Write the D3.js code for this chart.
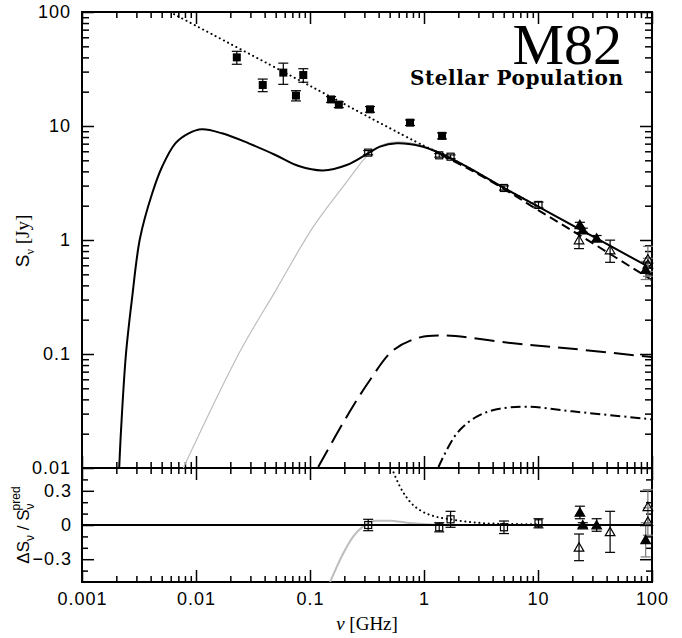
<!DOCTYPE html>
<html>
<head>
<meta charset="utf-8">
<script src="https://cdn.jsdelivr.net/npm/d3@7"></script>
<style>
  body { margin: 0; background: #fff; }
  svg { display: block; }
  .tick-label { font-family: "Liberation Sans", sans-serif; font-size: 18px; letter-spacing: 1px; }
  .axis-title { font-family: "Liberation Serif", serif; font-size: 19px; }
</style>
</head>
<body>
<div id="chart"></div>
<script>
// ---- tick labels ----
const xMajorTicks = [0.001, 0.01, 0.1, 1, 10, 100];
const yMajorTicks = [0.01, 0.1, 1, 10, 100];
const resMajorTicks = [-0.3, 0, 0.3];
const resMinorTicks = [-0.4, -0.2, -0.1, 0.1, 0.2, 0.4];

// ---- measured flux densities (GHz, Jy) ----
// filled squares
const sqFilledNu = [0.0228, 0.0385, 0.0583, 0.0753, 0.0873, 0.153, 0.179, 0.336, 0.754, 1.44];
const sqFilledS = [40.0, 22.9, 29.4, 18.5, 28.0, 17.1, 15.4, 14.0, 10.7, 8.2];
const sqFilledErr = [5.2, 2.9, 6.2, 1.9, 3.8, 1.0, 0.9, 0.8, 0.6, 0.5];

// open squares
const sqOpenNu = [0.324, 1.36, 1.71, 5.03, 10.1];
const sqOpenS = [5.84, 5.53, 5.38, 2.86, 2.03];
const sqOpenErr = [0.25, 0.2, 0.2, 0.12, 0.12];
const sqOpenRes = [0.0, -0.02, 0.05, -0.02, 0.015];
const sqOpenResErr = [0.05, 0.04, 0.07, 0.055, 0.04];

// filled triangles
const triFilledNu = [23.3, 24.7, 32.7, 88];
const triFilledS = [1.36, 1.22, 1.035, 0.55];
const triFilledErr = [0.07, 0.05, 0.06, 0.1];
const triFilledRes = [0.11, 0.0, 0.0, -0.13];
const triFilledResErr = [0.055, 0.02, 0.055, 0.15];

// open triangles
const triOpenNu = [22.9, 42.9, 92, 92];
const triOpenS = [1.0, 0.817, 0.68, 0.61];
const triOpenErr = [0.16, 0.18, 0.2, 0.08];
const triOpenRes = [-0.196, -0.06, 0.16, 0.03];
const triOpenResErr = [0.117, 0.18, 0.15, 0.12];

// ---- model curves: [nu, S] ----
const totalModel = [[0.00212, 0.01], [0.0022, 0.0215], [0.00243, 0.1], [0.00275, 0.31], [0.00323, 1.04],
  [0.00411, 2.53], [0.00503, 4.37], [0.00659, 7.05], [0.00863, 8.63], [0.0113, 9.36], [0.0169, 8.63],
  [0.029, 7.05], [0.0497, 5.57], [0.0797, 4.46], [0.13, 4.08], [0.21, 4.55], [0.324, 5.77],
  [0.411, 6.59], [0.577, 7.05], [0.923, 6.67], [1.38, 5.77], [2.37, 4.40], [5.03, 2.86],
  [10.1, 1.96], [23.3, 1.24], [100, 0.56]];
const noFreeFreeModel = [[0.00774, 0.01], [0.0243, 0.105], [0.05, 0.36], [0.107, 1.31],
  [0.21, 3.24], [0.293, 5.03], [0.35, 6.0], [0.45, 6.95], [0.6, 7.25], [0.923, 6.8], [1.38, 5.85],
  [2.37, 4.42], [5.03, 2.86], [10.1, 1.96], [23.3, 1.24], [100, 0.56]];
const nonThermal = [[1.4, 5.6], [2.37, 4.3], [5.03, 2.8], [10.1, 1.82], [23.3, 1.1], [100, 0.445]];
const thermalA = [[0.118, 0.0102], [0.21, 0.0282], [0.336, 0.0592], [0.538, 0.108], [0.923, 0.14],
  [1.58, 0.145], [6.08, 0.124], [20, 0.111], [100, 0.094]];
const thermalB = [[1.34, 0.0102], [1.94, 0.0201], [2.9, 0.0282], [4.34, 0.0327], [7.96, 0.0345],
  [20, 0.0314], [100, 0.0267]];
const powerLaw = [[0.0059, 100], [0.1, 22.5], [1.0, 6.7], [1.45, 5.65], [2.37, 4.4], [5.03, 2.86], [10.1, 1.96]];

// residual curves: [nu, dS/S]
const resNoFreeFree = [[0.15, -0.5], [0.196, -0.248], [0.24, -0.1], [0.294, -0.01], [0.385, 0.038],
  [0.503, 0.038], [0.705, 0.02], [1.06, 0.006], [1.39, 0], [100, 0]];
const resPowerLaw = [[0.521, 0.5], [0.616, 0.336], [0.753, 0.204], [0.922, 0.13], [1.21, 0.079],
  [1.69, 0.05], [2.37, 0.029], [3.55, 0.015], [5.68, 0.009], [9.74, 0.006]];

const width = 682, height = 638;
const mLeft = 82, mRight = 652, mTop = 12, mMid = 468, mBottom = 582;

const svg = d3.select("#chart").append("svg")
  .attr("width", width).attr("height", height);

const x = d3.scaleLog().domain([0.001, 100]).range([mLeft, mRight]);
const y = d3.scaleLog().domain([0.01, 100]).range([mMid, mTop]);
const yRes = d3.scaleLinear().domain([-0.5, 0.5]).range([mBottom, mMid]);

const xMinorTicks = x.ticks().filter(t => !xMajorTicks.some(m => Math.abs(m - t) / m < 1e-6));
const yMinorTicks = y.ticks().filter(t => !yMajorTicks.some(m => Math.abs(m - t) / m < 1e-6));

// clip paths
const defs = svg.append("defs");
defs.append("clipPath").attr("id", "clip-top").append("rect")
  .attr("x", mLeft).attr("y", mTop).attr("width", mRight - mLeft).attr("height", mMid - mTop);
defs.append("clipPath").attr("id", "clip-res").append("rect")
  .attr("x", mLeft).attr("y", mMid).attr("width", mRight - mLeft).attr("height", mBottom - mMid);

// ---- axes (inward ticks on all sides) ----
function drawAxis(axis, tx, ty, size, values, fmt) {
  const g = svg.append("g").attr("transform", `translate(${tx},${ty})`)
    .call(axis.tickValues(values).tickSize(size).tickSizeOuter(0).tickPadding(10).tickFormat(fmt || (() => "")));
  g.select(".domain").remove();
  g.selectAll(".tick line").attr("stroke", "#000").attr("stroke-width", 1.5);
  g.selectAll(".tick text").attr("class", "tick-label").attr("fill", "#000");
  return g;
}

// bottom of residual panel (labels)
drawAxis(d3.axisBottom(x), 0, mBottom, -12, xMajorTicks, d => d3.format("~g")(d));
drawAxis(d3.axisBottom(x), 0, mBottom, -6, xMinorTicks);
// shared line between panels
drawAxis(d3.axisBottom(x), 0, mMid, -12, xMajorTicks);
drawAxis(d3.axisBottom(x), 0, mMid, -6, xMinorTicks);
drawAxis(d3.axisTop(x), 0, mMid, -12, xMajorTicks);
drawAxis(d3.axisTop(x), 0, mMid, -6, xMinorTicks);
// top of upper panel
drawAxis(d3.axisTop(x), 0, mTop, -12, xMajorTicks);
drawAxis(d3.axisTop(x), 0, mTop, -6, xMinorTicks);

// upper panel y
drawAxis(d3.axisLeft(y), mLeft, 0, -12, yMajorTicks, d => d3.format("~g")(d))
  .selectAll(".tick text").attr("dx", "-1px");
drawAxis(d3.axisLeft(y), mLeft, 0, -7, yMinorTicks);
drawAxis(d3.axisRight(y), mRight, 0, -12, yMajorTicks);
drawAxis(d3.axisRight(y), mRight, 0, -7, yMinorTicks);

// residual y
drawAxis(d3.axisLeft(yRes), mLeft, 0, -12, resMajorTicks, d => d === 0 ? "0" : d3.format(".1f")(d).replace("-", "\u2212"));
drawAxis(d3.axisLeft(yRes), mLeft, 0, -6, resMinorTicks);
drawAxis(d3.axisRight(yRes), mRight, 0, -12, resMajorTicks);
drawAxis(d3.axisRight(yRes), mRight, 0, -6, resMinorTicks);

// frames
svg.append("rect").attr("x", mLeft).attr("y", mTop).attr("width", mRight - mLeft).attr("height", mBottom - mTop)
  .attr("fill", "none").attr("stroke", "#000").attr("stroke-width", 2);
svg.append("line").attr("x1", mLeft).attr("x2", mRight).attr("y1", mMid).attr("y2", mMid)
  .attr("stroke", "#000").attr("stroke-width", 2);

// ---- model curves ----
const smooth = d3.curveCatmullRom.alpha(0.5);
const lineTop = d3.line().x(d => x(d[0])).y(d => y(d[1])).curve(smooth);
const lineRes = d3.line().x(d => x(d[0])).y(d => yRes(d[1])).curve(d3.curveMonotoneX);

const curves = svg.append("g").attr("clip-path", "url(#clip-top)");
curves.append("path").datum(noFreeFreeModel).attr("d", lineTop)
  .attr("fill", "none").attr("stroke", "#bdbdbd").attr("stroke-width", 1.2);
curves.append("path").datum(thermalA).attr("d", lineTop)
  .attr("fill", "none").attr("stroke", "#000").attr("stroke-width", 2).attr("stroke-dasharray", "20 8");
curves.append("path").datum(thermalB).attr("d", lineTop)
  .attr("fill", "none").attr("stroke", "#000").attr("stroke-width", 2).attr("stroke-dasharray", "10 4 2 4");
curves.append("path").datum(nonThermal).attr("d", lineTop)
  .attr("fill", "none").attr("stroke", "#000").attr("stroke-width", 2).attr("stroke-dasharray", "9 5");
curves.append("path").datum(powerLaw).attr("d", lineTop)
  .attr("fill", "none").attr("stroke", "#000").attr("stroke-width", 2)
  .attr("stroke-linecap", "round").attr("stroke-dasharray", "0.1 4.6");
curves.append("path").datum(totalModel).attr("d", lineTop)
  .attr("fill", "none").attr("stroke", "#000").attr("stroke-width", 2);

const resCurves = svg.append("g").attr("clip-path", "url(#clip-res)");
resCurves.append("path").datum(resNoFreeFree).attr("d", lineRes)
  .attr("fill", "none").attr("stroke", "#bdbdbd").attr("stroke-width", 2);
resCurves.append("line").attr("x1", mLeft).attr("x2", mRight).attr("y1", yRes(0)).attr("y2", yRes(0))
  .attr("stroke", "#000").attr("stroke-width", 2);
resCurves.append("path").datum(resPowerLaw).attr("d", lineRes)
  .attr("fill", "none").attr("stroke", "#000").attr("stroke-width", 2)
  .attr("stroke-linecap", "round").attr("stroke-dasharray", "0.1 4.6");

// ---- data points ----
function zip(nu, v, e) { return nu.map((n, i) => ({ nu: n, v: v[i], e: e[i] })); }

function errorBars(g, data, yScale) {
  const cap = 5;
  data.forEach(d => {
    const col = d.nu > 80 ? "#777" : "#000";
    const y0 = yScale(d.v - d.e), y1 = yScale(d.v + d.e), xx = x(d.nu);
    g.append("line").attr("x1", xx).attr("x2", xx).attr("y1", y0).attr("y2", y1)
      .attr("stroke", col).attr("stroke-width", 1.2);
    [y0, y1].forEach(yy => g.append("line").attr("x1", xx - cap).attr("x2", xx + cap)
      .attr("y1", yy).attr("y2", yy).attr("stroke", col).attr("stroke-width", 1.2));
  });
}

function squares(g, data, yScale, filled) {
  const s = filled ? 8 : 7;
  g.selectAll(null).data(data).join("rect")
    .attr("x", d => x(d.nu) - s / 2).attr("y", d => yScale(d.v) - s / 2)
    .attr("width", s).attr("height", s)
    .attr("fill", filled ? "#000" : "none").attr("stroke", "#000").attr("stroke-width", filled ? 0 : 1.2);
}

function triangles(g, data, yScale, filled) {
  const sym = d3.symbol(d3.symbolTriangle, 40);
  g.selectAll(null).data(data).join("path")
    .attr("d", sym)
    .attr("transform", d => `translate(${x(d.nu)},${yScale(d.v) + 1})`)
    .attr("fill", filled ? "#000" : "none").attr("stroke", "#000").attr("stroke-width", 1.2);
}

const pts = svg.append("g");
const sqFilled = zip(sqFilledNu, sqFilledS, sqFilledErr);
const sqOpen = zip(sqOpenNu, sqOpenS, sqOpenErr);
const triFilled = zip(triFilledNu, triFilledS, triFilledErr);
const triOpen = zip(triOpenNu, triOpenS, triOpenErr);
[sqFilled, sqOpen, triFilled, triOpen].forEach(d => errorBars(pts, d, y));
squares(pts, sqFilled, y, true);
squares(pts, sqOpen, y, false);
triangles(pts, triFilled, y, true);
triangles(pts, triOpen, y, false);

const resPts = svg.append("g");
const sqOpenR = zip(sqOpenNu, sqOpenRes, sqOpenResErr);
const triFilledR = zip(triFilledNu, triFilledRes, triFilledResErr);
const triOpenR = zip(triOpenNu, triOpenRes, triOpenResErr);
[sqOpenR, triFilledR, triOpenR].forEach(d => errorBars(resPts, d, yRes));
squares(resPts, sqOpenR, yRes, false);
triangles(resPts, triFilledR, yRes, true);
triangles(resPts, triOpenR, yRes, false);

// ---- titles ----
svg.append("text").attr("x", 622).attr("y", 64).attr("text-anchor", "end")
  .style("font-family", "'Liberation Serif', serif").style("font-size", "58px").text("M82");
svg.append("text").attr("x", 623).attr("y", 85).attr("text-anchor", "end")
  .attr("textLength", 213).attr("lengthAdjust", "spacing")
  .style("font-family", "'DejaVu Serif', serif").style("font-weight", "bold").style("font-size", "20px")
  .text("Stellar Population");

// y label, upper panel
const yl = svg.append("text").attr("class", "axis-title")
  .attr("transform", "translate(29,241) rotate(-90)").attr("text-anchor", "middle");
yl.append("tspan").style("font-family", "'Liberation Sans', sans-serif").text("S");
yl.append("tspan").attr("dy", 5).style("font-size", "12px").text("\u03bd");
yl.append("tspan").attr("dy", -5).text(" [Jy]");

// y label, residual panel
const rl = svg.append("text").attr("class", "axis-title")
  .attr("transform", "translate(29,525) rotate(-90)").attr("text-anchor", "middle")
  .style("font-family", "'Liberation Sans', sans-serif").style("font-size", "17px");
rl.append("tspan").text("\u0394S");
rl.append("tspan").attr("dy", 5).style("font-size", "12px").text("\u03bd");
rl.append("tspan").attr("dy", -5).text("  /  S");
rl.append("tspan").attr("dy", 5).style("font-size", "12px").text("\u03bd");
rl.append("tspan").attr("dx", -7).attr("dy", -14).style("font-size", "12px").text("pred");

// x label
const xl = svg.append("text").attr("class", "axis-title")
  .attr("x", 367).attr("y", 630).attr("text-anchor", "middle");
xl.append("tspan").style("font-style", "italic").text("\u03bd");
xl.append("tspan").text(" [GHz]");
</script>
</body>
</html>
